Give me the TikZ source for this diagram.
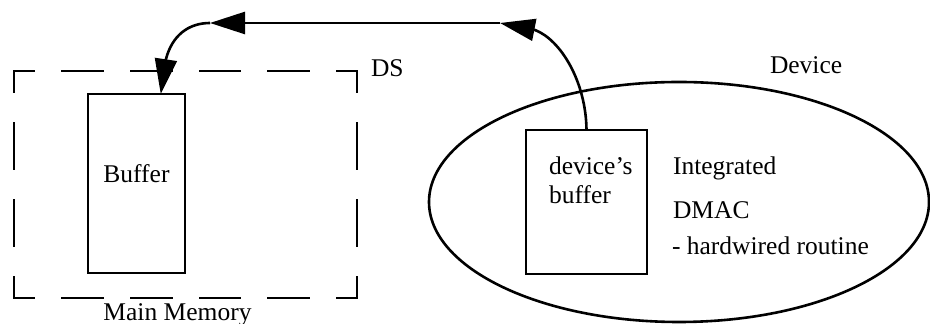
\documentclass[tikz,border=0pt]{standalone}
\usepackage{fontspec}
\setmainfont{Liberation Serif}
\usetikzlibrary{arrows.meta,shapes.geometric,calc}
\begin{document}
\begin{tikzpicture}[x=0.5pt,y=-0.5pt,
  line width=1.3pt,
  every node/.style={inner sep=0pt, outer sep=0pt, font=\fontsize{12.75}{15}\selectfont},
  box/.style={draw, rectangle},
  txt/.style={anchor=base west},
  ctxt/.style={anchor=base},
  hside/.style={line cap=rect, dash pattern=on 20pt off 14.3pt, dash phase=10pt},
  vside/.style={line cap=rect, dash pattern=on 23pt off 15.5pt, dash phase=12.5pt},
  flow/.style={-{Triangle[length=17.5pt,width=11pt]}},
]
\useasboundingbox (0,0) rectangle (930,324);

% main memory region (dashed frame)
\coordinate (mmNW) at (14,71);
\coordinate (mmNE) at (357,71);
\coordinate (mmSW) at (14,298);
\coordinate (mmSE) at (357,298);
\draw[hside] (mmNW) -- (mmNE);
\draw[hside] (mmSW) -- (mmSE);
\draw[vside] (mmNW) -- (mmSW);
\draw[vside] (mmNE) -- (mmSE);
\node[ctxt] (mmlabel) at (177.5,321) {Main Memory};

% buffer in main memory
\node[box, minimum width=48.5pt, minimum height=89.5pt] (buf) at (136.5,183.5) {};
\node[ctxt] (buftext) at (136.5,183) {Buffer};

% device
\node[draw, ellipse, minimum width=250pt, minimum height=120pt] (dev) at (679,202) {};
\node[txt] (devlabel) at (770,73.5) {Device};
\node[box, minimum width=60.5pt, minimum height=72pt] (devbuf) at (586.5,202) {};
\node[txt] (db1) at (549,175) {device’s};
\node[txt] (db2) at (549,204) {buffer};
\node[txt] (d1) at (673,175) {Integrated};
\node[txt] (d2) at (673,219) {DMAC};
\node[txt] (d3) at (672,255) {- hardwired routine};

% data transfer path
\node[txt] (ds) at (371,77) {DS};
\coordinate (baseR) at (535,30);
\coordinate (tipR) at (500,23);
\coordinate (tipL) at (210,23);
\coordinate (baseD) at (166,59);
\coordinate (bufIn) at ($(buf.north west)!0.75!(buf.north east)$);
\draw[flow] (devbuf.north) .. controls (586,82) and (561,40) .. (baseR) -- (tipR);
\draw[flow] (tipR) -- (tipL);
\draw[flow] (tipL) .. controls (188,23) and (172,36) .. (baseD) -- (bufIn);
\end{tikzpicture}
\end{document}
